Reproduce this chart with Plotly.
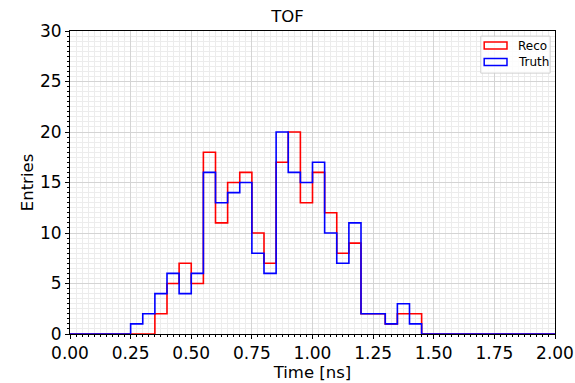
import numpy as np
import plotly.graph_objects as go

# bin definition (ns)
bin_start = 0.0
bin_width = 0.05
n_bins = 40

reco_counts = [0, 0, 0, 0, 0, 0, 0, 2, 5, 7, 5, 18, 11, 15, 16, 10, 7, 17, 20, 13,
               16, 12, 8, 9, 2, 2, 1, 2, 2, 0, 0, 0, 0, 0, 0, 0, 0, 0, 0, 0]
truth_counts = [0, 0, 0, 0, 0, 1, 2, 4, 6, 4, 6, 16, 13, 14, 15, 8, 6, 20, 16, 15,
                17, 10, 7, 11, 2, 2, 1, 3, 1, 0, 0, 0, 0, 0, 0, 0, 0, 0, 0, 0]

series_names = ["Reco", "Truth"]
series_colors = ["#ff0000", "#0000ff"]

edges = bin_start + bin_width * np.arange(n_bins + 1)


def step_xy(counts):
    xs = [edges[0]] + list(edges[:-1]) + [edges[-1], edges[-1]]
    ys = [0] + list(counts) + [counts[-1], 0]
    return xs, ys


fig = go.Figure()
for name, counts, color in zip(series_names, [reco_counts, truth_counts], series_colors):
    xs, ys = step_xy(counts)
    fig.add_trace(go.Scatter(x=xs, y=ys, mode="lines", line=dict(color=color, width=1.6, shape="hv"),
                             name=name, showlegend=False, hoverinfo="skip"))

font_family = "DejaVu Sans"
axis_common = dict(
    showline=True, linecolor="black", linewidth=1, mirror=True,
    ticks="outside", ticklen=4, tickwidth=1, tickcolor="black",
    showgrid=True, gridcolor="#d4d4d4", gridwidth=1, zeroline=False,
    automargin=False,
    tickfont=dict(family=font_family, size=17, color="black"),
    title_font=dict(family=font_family, size=16.5, color="black"),
)

fig.update_xaxes(range=[0, 2], dtick=0.25, tickformat=".2f", title_text="Time [ns]",
                 title_standoff=4,
                 minor=dict(dtick=0.025, ticks="outside", ticklen=2, tickcolor="black",
                            showgrid=True, gridcolor="#ececec", gridwidth=1),
                 **axis_common)
fig.update_yaxes(range=[0, 30], dtick=5, title_text="Entries", title_standoff=2,
                 minor=dict(dtick=0.5, ticks="outside", ticklen=2, tickcolor="black",
                            showgrid=True, gridcolor="#ececec", gridwidth=1),
                 **axis_common)

# legend drawn as box with outlined patches
shapes = [dict(type="rect", xref="paper", yref="paper", x0=0.847, x1=0.990, y0=0.861, y1=0.983,
               line=dict(color="#d0d0d0", width=1), fillcolor="rgba(255,255,255,0.85)", layer="above")]
annotations = []
for i, (name, color) in enumerate(zip(series_names, series_colors)):
    yc = 0.952 - i * 0.054
    shapes.append(dict(type="rect", xref="paper", yref="paper", x0=0.854, x1=0.901,
                       y0=yc - 0.0115, y1=yc + 0.0115, line=dict(color=color, width=1.5),
                       fillcolor="rgba(0,0,0,0)", layer="above"))
    annotations.append(dict(xref="paper", yref="paper", x=0.920, y=yc, text=name, showarrow=False,
                            xanchor="left", yanchor="middle",
                            font=dict(family=font_family, size=12, color="black")))

fig.update_layout(
    width=575, height=383,
    margin=dict(l=70, r=20, t=31, b=49),
    paper_bgcolor="white", plot_bgcolor="white",
    title=dict(text="TOF", x=0.5, xanchor="center", y=0.958, yanchor="middle",
               font=dict(family=font_family, size=16.5, color="black")),
    showlegend=False,
    shapes=shapes, annotations=annotations,
)

fig.write_html("out.html")
